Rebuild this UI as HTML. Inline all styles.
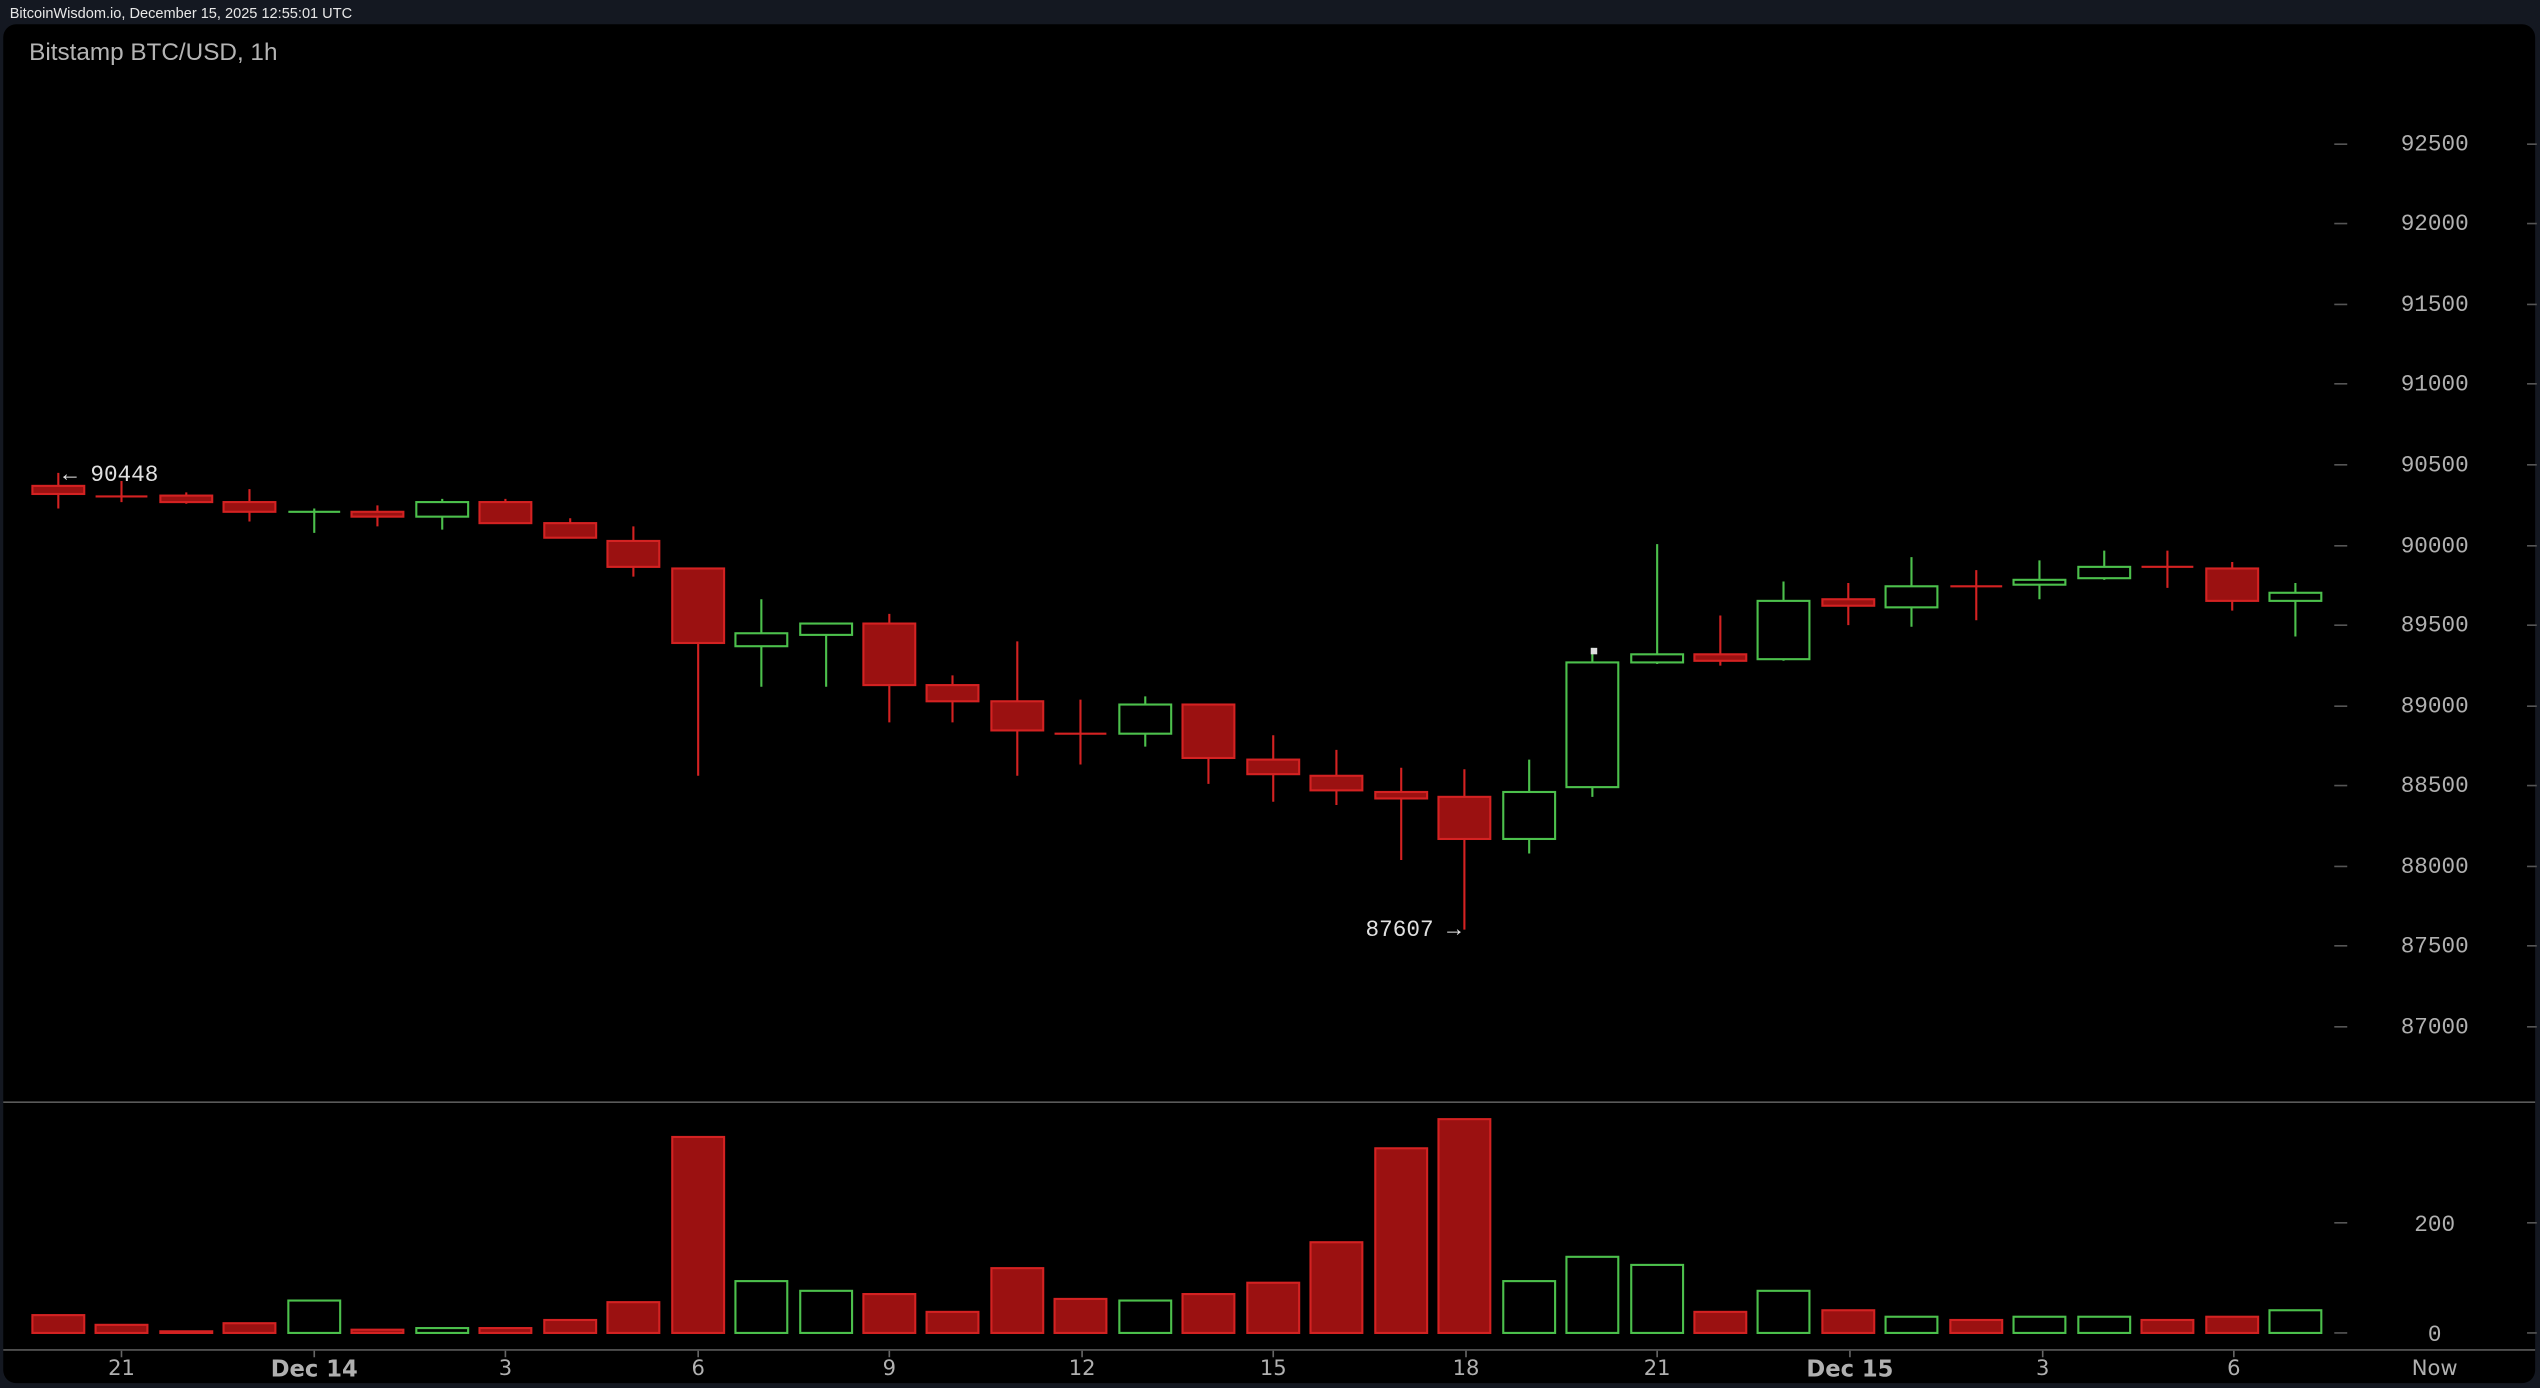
<!DOCTYPE html>
<html><head><meta charset="utf-8"><style>
html,body{margin:0;padding:0;background:#141821;width:2540px;height:1388px;overflow:hidden}
svg{display:block}
.r{fill:#9b1111;stroke:#d42222;stroke-width:1.3}
.g{fill:#000;stroke:#4cc04c;stroke-width:1.3}
.wr{stroke:#d42222;stroke-width:1.3;fill:none}
.wg{stroke:#4cc04c;stroke-width:1.3;fill:none}
</style></head><body>
<svg width="2540" height="1388" viewBox="0 0 1568 857" preserveAspectRatio="none" xmlns="http://www.w3.org/2000/svg">
<rect x="0" y="0" width="1568" height="857" fill="#141821"/>
<text x="6" y="11" font-family="Liberation Sans, sans-serif" font-size="9" fill="#e8e8e8">BitcoinWisdom.io, December 15, 2025 12:55:01 UTC</text>
<rect x="2" y="15" width="1563" height="839" rx="8" fill="#000"/>
<text x="18" y="37" font-family="Liberation Sans, sans-serif" font-size="15" fill="#b4b4b4">Bitstamp BTC/USD, 1h</text>
<g font-family="Liberation Mono, DejaVu Sans Mono, monospace" font-size="14" fill="#b0b0b0" text-anchor="middle">
<text x="1503" y="93">92500</text><text x="1503" y="142">92000</text><text x="1503" y="192">91500</text><text x="1503" y="241">91000</text><text x="1503" y="291">90500</text><text x="1503" y="341">90000</text><text x="1503" y="390">89500</text><text x="1503" y="440">89000</text><text x="1503" y="489">88500</text><text x="1503" y="539">88000</text><text x="1503" y="588">87500</text><text x="1503" y="638">87000</text>
<text x="1503" y="760">200</text><text x="1503" y="828">0</text>
</g>
<g stroke="#555" stroke-width="1">
<path d="M1441 89h8M1441 138h8M1441 188h8M1441 237h8M1441 287h8M1441 337h8M1441 386h8M1441 436h8M1441 485h8M1441 535h8M1441 584h8M1441 634h8M1441 755h8M1441 823h8"/>
<path d="M1560 89h6M1560 138h6M1560 188h6M1560 237h6M1560 287h6M1560 337h6M1560 386h6M1560 436h6M1560 485h6M1560 535h6M1560 584h6M1560 634h6M1560 755h6M1560 823h6"/>
</g>
<line x1="2" y1="680.5" x2="1565" y2="680.5" stroke="#5a5a5a" stroke-width="1"/>
<line x1="2" y1="833.5" x2="1565" y2="833.5" stroke="#5a5a5a" stroke-width="1"/>
<g stroke="#666"><path d="M75 834v4M194 834v4M312 834v4M431 834v4M549 834v4M668 834v4M786 834v4M905 834v4M1023 834v4M1142 834v4M1261 834v4M1379 834v4"/></g>
<g font-family="DejaVu Sans, Liberation Sans, sans-serif" font-size="13" fill="#b0b0b0" text-anchor="middle">
<text x="75" y="849">21</text><text x="194" y="850" font-size="14" font-weight="bold">Dec 14</text><text x="312" y="849">3</text><text x="431" y="849">6</text><text x="549" y="849">9</text><text x="668" y="849">12</text><text x="786" y="849">15</text><text x="905" y="849">18</text><text x="1023" y="849">21</text><text x="1142" y="850" font-size="14" font-weight="bold">Dec 15</text><text x="1261" y="849">3</text><text x="1379" y="849">6</text><text x="1503" y="849">Now</text>
</g>
<g font-family="Liberation Mono, DejaVu Sans Mono, monospace" font-size="14" fill="#e0e0e0">
<text x="39" y="297">← 90448</text>
<text x="843" y="578">87607 →</text>
</g>
<!-- wicks -->
<path class="wr" d="M36 292V314M75 297V310M115 304V311M154 302V322M233 312V325M312 308V323M352 320V332M391 325V356M431 351V479M549 379V446M588 417V446M628 396V479M667 432V472M746 435V484M786 454V495M825 463V497M865 474V531M904 475V574M1062 380V411M1141 360V386M1220 352V383M1338 340V363M1378 347V377"/>
<path class="wg" d="M194 314V329M273 308V327M470 370V424M510 385V424M707 430V461M944 469V527M983 400V492M1023 336V410M1101 359V408M1180 344V387M1259 346V370M1299 340V358M1417 360V393"/>
<!-- dojis -->
<path class="wr" stroke-width="1.6" d="M59 306.5h32M651 453h32M1204 362h32M1322 350h32"/>
<path class="wg" stroke-width="1.6" d="M178 316h32"/>
<!-- bodies -->
<rect class="r" x="20" y="300" width="32" height="5"/>
<rect class="r" x="99" y="306" width="32" height="4"/>
<rect class="r" x="138" y="310" width="32" height="6"/>
<rect class="r" x="217" y="316" width="32" height="3"/>
<rect class="g" x="257" y="310" width="32" height="9"/>
<rect class="r" x="296" y="310" width="32" height="13"/>
<rect class="r" x="336" y="323" width="32" height="9"/>
<rect class="r" x="375" y="334" width="32" height="16"/>
<rect class="r" x="415" y="351" width="32" height="46"/>
<rect class="g" x="454" y="391" width="32" height="8"/>
<rect class="g" x="494" y="385" width="32" height="7"/>
<rect class="r" x="533" y="385" width="32" height="38"/>
<rect class="r" x="572" y="423" width="32" height="10"/>
<rect class="r" x="612" y="433" width="32" height="18"/>
<rect class="g" x="691" y="435" width="32" height="18"/>
<rect class="r" x="730" y="435" width="32" height="33"/>
<rect class="r" x="770" y="469" width="32" height="9"/>
<rect class="r" x="809" y="479" width="32" height="9"/>
<rect class="r" x="849" y="489" width="32" height="4"/>
<rect class="r" x="888" y="492" width="32" height="26"/>
<rect class="g" x="928" y="489" width="32" height="29"/>
<rect class="g" x="967" y="409" width="32" height="77"/>
<rect class="g" x="1007" y="404" width="32" height="5"/>
<rect class="r" x="1046" y="404" width="32" height="4"/>
<rect class="g" x="1085" y="371" width="32" height="36"/>
<rect class="r" x="1125" y="370" width="32" height="4"/>
<rect class="g" x="1164" y="362" width="32" height="13"/>
<rect class="g" x="1243" y="358" width="32" height="3"/>
<rect class="g" x="1283" y="350" width="32" height="7"/>
<rect class="r" x="1362" y="351" width="32" height="20"/>
<rect class="g" x="1401" y="366" width="32" height="5"/>
<rect x="982" y="400" width="4" height="4" fill="#ddd"/>
<!-- volume -->
<rect class="r" x="20" y="812" width="32" height="11"/>
<rect class="r" x="59" y="818" width="32" height="5"/>
<rect class="r" x="99" y="822" width="32" height="1"/>
<rect class="r" x="138" y="817" width="32" height="6"/>
<rect class="g" x="178" y="803" width="32" height="20"/>
<rect class="r" x="217" y="821" width="32" height="2"/>
<rect class="g" x="257" y="820" width="32" height="3"/>
<rect class="r" x="296" y="820" width="32" height="3"/>
<rect class="r" x="336" y="815" width="32" height="8"/>
<rect class="r" x="375" y="804" width="32" height="19"/>
<rect class="r" x="415" y="702" width="32" height="121"/>
<rect class="g" x="454" y="791" width="32" height="32"/>
<rect class="g" x="494" y="797" width="32" height="26"/>
<rect class="r" x="533" y="799" width="32" height="24"/>
<rect class="r" x="572" y="810" width="32" height="13"/>
<rect class="r" x="612" y="783" width="32" height="40"/>
<rect class="r" x="651" y="802" width="32" height="21"/>
<rect class="g" x="691" y="803" width="32" height="20"/>
<rect class="r" x="730" y="799" width="32" height="24"/>
<rect class="r" x="770" y="792" width="32" height="31"/>
<rect class="r" x="809" y="767" width="32" height="56"/>
<rect class="r" x="849" y="709" width="32" height="114"/>
<rect class="r" x="888" y="691" width="32" height="132"/>
<rect class="g" x="928" y="791" width="32" height="32"/>
<rect class="g" x="967" y="776" width="32" height="47"/>
<rect class="g" x="1007" y="781" width="32" height="42"/>
<rect class="r" x="1046" y="810" width="32" height="13"/>
<rect class="g" x="1085" y="797" width="32" height="26"/>
<rect class="r" x="1125" y="809" width="32" height="14"/>
<rect class="g" x="1164" y="813" width="32" height="10"/>
<rect class="r" x="1204" y="815" width="32" height="8"/>
<rect class="g" x="1243" y="813" width="32" height="10"/>
<rect class="g" x="1283" y="813" width="32" height="10"/>
<rect class="r" x="1322" y="815" width="32" height="8"/>
<rect class="r" x="1362" y="813" width="32" height="10"/>
<rect class="g" x="1401" y="809" width="32" height="14"/>
</svg>
</body></html>
